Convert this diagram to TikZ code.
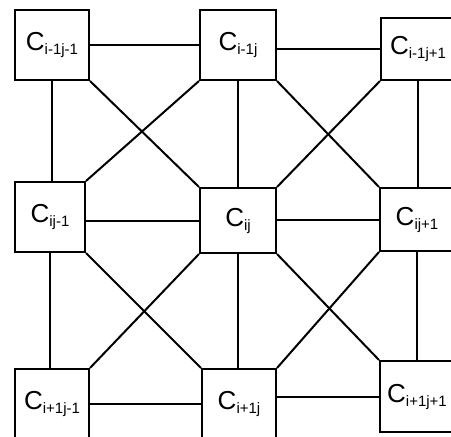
\documentclass[tikz,border=0pt]{standalone}
\usepackage{fontspec}
\setmainfont{Liberation Sans}
\usetikzlibrary{positioning}
\newcommand{\cellname}[1]{{\fontsize{26}{26}\selectfont C}\raisebox{-4pt}{\fontsize{15}{15}\selectfont #1}}

\begin{document}
\begin{tikzpicture}[x=1pt,y=-1pt,
        cell/.style={draw, line width=2pt, inner sep=0pt, minimum width=74pt, minimum height=70pt},
        link/.style={line width=2pt}]
        \useasboundingbox (0,0) rectangle (451,437);
        \clip (0,0) rectangle (451,437);
        % top row
        \node[cell] (c11) at (52,45) {\cellname{i-1j-1}};
        \node[cell, minimum width=76pt] (c12) at (238,45) {\cellname{i-1j}};
        \node[cell, minimum height=62pt] (c13) at (418,49) {\cellname{i-1j+1}};
        % middle row
        \node[cell, minimum width=70pt] (c21) at (50,217) {\cellname{ij-1}};
        \node[cell, minimum width=76pt, minimum height=65pt] (c22) at (238,220.5) {\cellname{ij}};
        \node[cell, minimum height=63pt] (c23) at (417,219.5) {\cellname{ij+1}};
        % bottom row
        \node[cell] (c31) at (52,404) {\cellname{i+1j-1}};
        \node[cell] (c32) at (239,404) {\cellname{i+1j}};
        \node[cell, minimum height=71pt] (c33) at (417,396.5) {\cellname{i+1j+1}};
        % neighbours in rows
        \foreach \a/\b in {c11/c12, c12/c13, c21/c22, c22/c23, c31/c32, c32/c33}
            \draw[link] (\a.east |- \b.west) -- (\b.west);
        % neighbours in columns
        \foreach \a/\b in {c11/c21, c21/c31, c12/c22, c22/c32, c13/c23, c23/c33}
            \draw[link] (\a.south) -- (\a.south |- \b.north);
        % diagonal neighbours
        \foreach \a/\b in {c11/c22, c12/c23, c21/c32, c22/c33}
            \draw[link] (\a.south east) -- (\b.north west);
        \foreach \a/\b in {c12/c21, c13/c22, c22/c31, c23/c32}
            \draw[link] (\a.south west) -- (\b.north east);
\end{tikzpicture}
\end{document}
